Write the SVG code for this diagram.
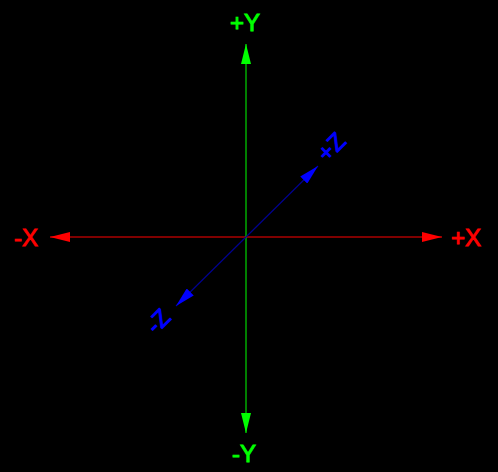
<svg xmlns="http://www.w3.org/2000/svg" width="498" height="472" viewBox="0 0 498 472">
<style>
.lbl{font-family:"Liberation Sans",Arial,sans-serif;font-size:24px;stroke-width:0.9}
.r{fill:#ff0000;stroke:#ff0000}
.g{fill:#00ff00;stroke:#00ff00}
.b{fill:#0000ff;stroke:#0000ff}
</style>
<defs>
<marker id="arR" viewBox="0 0 20 10" refX="20" refY="5" markerWidth="20" markerHeight="10" markerUnits="userSpaceOnUse" orient="auto-start-reverse"><path d="M0,0 L20,5 L0,10 Z" fill="#ff0000"/></marker>
<marker id="arG" viewBox="0 0 20 10" refX="20" refY="5" markerWidth="20" markerHeight="10" markerUnits="userSpaceOnUse" orient="auto-start-reverse"><path d="M0,0 L20,5 L0,10 Z" fill="#00ff00"/></marker>
<marker id="arB" viewBox="0 0 20 10" refX="20" refY="5" markerWidth="20" markerHeight="10" markerUnits="userSpaceOnUse" orient="auto-start-reverse"><path d="M0,0 L20,5 L0,10 Z" fill="#0000ff"/></marker>
</defs>
<rect width="498" height="472" fill="#000"/>
<g id="connectors">
<line x1="50" y1="237" x2="442" y2="237" stroke="#ff0000" stroke-width="1" marker-start="url(#arR)" marker-end="url(#arR)"/>
<line x1="246" y1="44" x2="246" y2="433" stroke="#00ff00" stroke-width="1" marker-start="url(#arG)" marker-end="url(#arG)"/>
<line x1="176" y1="306" x2="318" y2="166" stroke="#000090" stroke-width="1.2" marker-start="url(#arB)" marker-end="url(#arB)"/>
</g>
<g id="label-px"><text class="lbl r" x="451" y="246">+X</text></g>
<g id="label-nx"><text class="lbl r" x="14" y="246">-X</text></g>
<g id="label-py"><text class="lbl g" x="230" y="31">+Y</text></g>
<g id="label-ny"><text class="lbl g" x="232" y="462">-Y</text></g>
<g id="label-pz"><text class="lbl b" transform="translate(327,163) rotate(-45)">+Z</text></g>
<g id="label-nz"><text class="lbl b" transform="translate(156,335) rotate(-45)">-Z</text></g>
</svg>
